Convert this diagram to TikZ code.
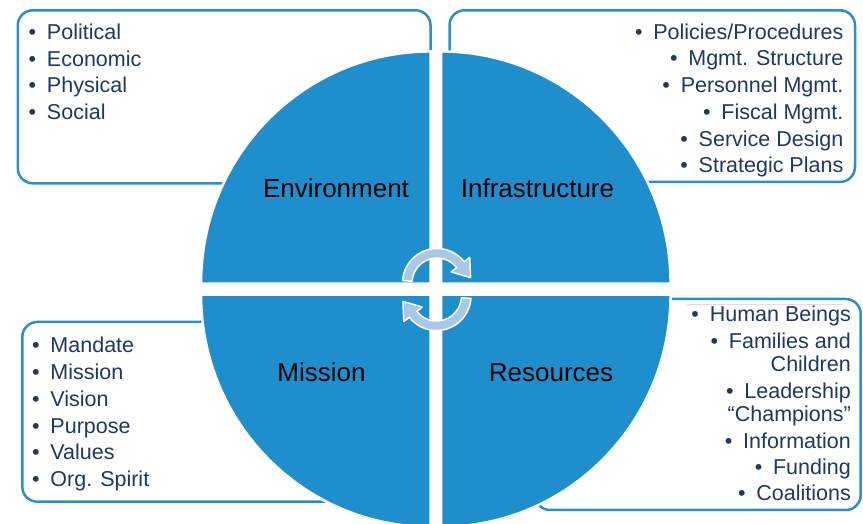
\documentclass[tikz,border=0pt]{standalone}
\usepackage{fontspec}
\setmainfont{Liberation Sans}
\definecolor{quad}{HTML}{1E8FCC}
\definecolor{frame}{HTML}{2A8FCB}
\definecolor{itemtext}{HTML}{1F3864}
\definecolor{cyclearrow}{HTML}{A9C7E6}
\definecolor{paleline}{HTML}{D2E4F3}
\begin{document}
\begin{tikzpicture}[x=1pt,y=1pt,
  infobox/.style={draw=frame, line width=2.5pt, rounded corners=15pt, fill=white},
  quadrant/.style={fill=quad, draw=white, line width=2.5pt},
  quadlabel/.style={font=\fontsize{26}{30}\selectfont, text=black, inner sep=0pt, anchor=base},
  itembase/.style={font=\fontsize{21.5}{24}\selectfont, text=itemtext, inner sep=0pt},
  itemL/.style={itembase, anchor=base west},
  itemR/.style={itembase, anchor=base east},
  cycarrow/.style={fill=cyclearrow, draw=white, line width=1.5pt, line join=round}]
\useasboundingbox (0,0) rectangle (863,524);

% framed boxes behind the circle
\draw[infobox] (17.8,513.7) rectangle (430.5,340.7);
\draw[infobox] (449.5,513.7) rectangle (855,342);
\draw[infobox] (22.3,202) rectangle (420,22.3);
\draw[infobox] (535,225) rectangle (860.7,14);
\draw[paleline, line width=1pt] (687,219) -- (843,219);

% bullet lists
\newcommand{\blt}{\makebox[18.3pt][l]{\textbullet}}
\foreach \t [count=\i] in {Political,Economic,Physical,Social}
  \node[itemL] (envitem\i) at (28.5,{484.5-26.6*(\i-1)}) {\blt\t};
\foreach \t [count=\i] in {Policies/Procedures,Mgmt. Structure,Personnel Mgmt.,Fiscal Mgmt.,Service Design,Strategic Plans}
  \node[itemR] (infitem\i) at (843.5,{484.7-26.7*(\i-1)}) {\blt\t};
\foreach \t [count=\i] in {Mandate,Mission,Vision,Purpose,Values,Org. Spirit}
  \node[itemL] (misitem\i) at (32,{171.3-26.8*(\i-1)}) {\blt\t};
\node[itemR] (resitem1) at (851,202.3) {\blt Human Beings};
\node[itemR] (resitem2) at (851,175.7) {\blt Families and};
\node[itemR] (resitem2b) at (851,152.3) {Children};
\node[itemR] (resitem3) at (851,125.7) {\blt Leadership};
\node[itemR] (resitem3b) at (851,102.3) {“Champions”};
\node[itemR] (resitem4) at (851,75.7) {\blt Information};
\node[itemR] (resitem5) at (851,49) {\blt Funding};
\node[itemR] (resitem6) at (851,23) {\blt Coalitions};

% four quadrants of the circle
\draw[quadrant] (430.55,240.45) -- ++(-229.5,0)
  arc[start angle=180, end angle=90, x radius=229.5, y radius=232.1] -- cycle;
\draw[quadrant] (441.05,240.45) -- ++(229.5,0)
  arc[start angle=0, end angle=90, x radius=229.5, y radius=232.1] -- cycle;
\draw[quadrant] (430.55,229.25) -- ++(-229.5,0)
  arc[start angle=180, end angle=270, x radius=229.5, y radius=232.1] -- cycle;
\draw[quadrant] (441.05,229.25) -- ++(229.5,0)
  arc[start angle=0, end angle=-90, x radius=229.5, y radius=232.1] -- cycle;

% quadrant titles
\node[quadlabel] (env) at (336,326.7) {Environment};
\node[quadlabel] (infra) at (537.5,326.7) {Infrastructure};
\node[quadlabel] (mission) at (321.5,142.3) {Mission};
\node[quadlabel] (res) at (551,142.3) {Resources};

% circular arrows in the middle
\coordinate (ta) at (437,241);
\coordinate (tb) at (436.5,228);
\draw[cycarrow] ([shift={(ta)}]176:34.5) arc[start angle=176, end angle=38, radius=34.5]
  -- ([shift={(ta)}]38:41.5) -- ([shift={(ta)}]9:34) -- ([shift={(ta)}]38:18)
  -- ([shift={(ta)}]38:25) arc[start angle=38, end angle=176, radius=25] -- cycle;
\draw[cycarrow] ([shift={(tb)}]-4:34.5) arc[start angle=-4, end angle=-142, radius=34.5]
  -- ([shift={(tb)}]-142:41.5) -- ([shift={(tb)}]-171:34) -- ([shift={(tb)}]-142:18)
  -- ([shift={(tb)}]-142:25) arc[start angle=-142, end angle=-4, radius=25] -- cycle;
\end{tikzpicture}
\end{document}
